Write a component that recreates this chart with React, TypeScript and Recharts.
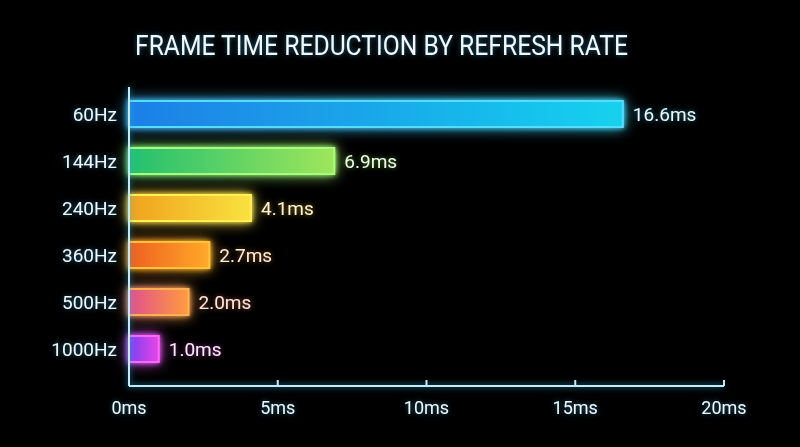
import React from 'react';
import { BarChart, Bar, XAxis, YAxis, LabelList } from 'recharts';

const categories = ['60Hz', '144Hz', '240Hz', '360Hz', '500Hz', '1000Hz'];
const frameTimes = [16.6, 6.9, 4.1, 2.7, 2.0, 1.0];
const xTicks = [0, 5, 10, 15, 20];
const title = 'FRAME TIME REDUCTION BY REFRESH RATE';

// bar look, one entry per category
const gradFrom = ['#1b7fe6', '#22c070', '#f0a21e', '#ef5f1e', '#e2508c', '#7a3ff0'];
const gradTo = ['#18d2ee', '#9fe65a', '#f9e23e', '#ffaa2a', '#ff9c40', '#e646e6'];
const strokes = ['#55dcff', '#a6ff7c', '#fff054', '#ffc238', '#ffb052', '#ff66ff'];
const labelFill = ['#eef9fc', '#f2fbe8', '#fff5d4', '#ffeede', '#ffe8de', '#fbeafb'];
const labelGlow = ['#1ec8ff', '#6ee04a', '#f5c020', '#ff8a20', '#ff7a50', '#e040e0'];

const axisColor = '#c4ecf6';
const font = 'Roboto, "Noto Sans", sans-serif';

const data = categories.map((rate, i) => ({ rate, ms: frameTimes[i] }));

const renderBar = (props: any) => {
  const { x, y, width, height, index } = props;
  return (
    <rect
      x={x}
      y={y}
      width={width}
      height={height}
      fill={`url(#barGrad${index})`}
      stroke={strokes[index]}
      strokeWidth={2}
      filter="url(#barGlow)"
    />
  );
};

const renderValue = (props: any) => {
  const { x, y, width, height, value, index } = props;
  return (
    <text
      x={x + width + 10}
      y={y + height / 2}
      dy={7}
      fill={labelFill[index]}
      fontSize={19}
      fontFamily={font}
      filter={`url(#labelGlow${index})`}
    >
      {`${Number(value).toFixed(1)}ms`}
    </text>
  );
};

const YTick = (props: any) => {
  const { x, y, payload } = props;
  return (
    <text x={x} y={y} dy={7} textAnchor="end" fill="#f0f9fc" fontSize={19} fontFamily={font} filter="url(#textGlow)">
      {payload.value}
    </text>
  );
};

const XTick = (props: any) => {
  const { x, y, payload } = props;
  return (
    <text x={x} y={y} dy={13} textAnchor="middle" fill="#f0f9fc" fontSize={18} fontFamily={font} filter="url(#textGlow)">
      {`${payload.value}ms`}
    </text>
  );
};

export default function App() {
  return (
    <div style={{ position: 'absolute', left: 0, top: 0, width: 800, height: 447, background: '#000', overflow: 'hidden' }}>
      <svg width={800} height={447} style={{ position: 'absolute', left: 0, top: 0 }}>
        <defs>
          {gradFrom.map((c, i) => (
            <linearGradient key={i} id={`barGrad${i}`} x1="0" y1="0" x2="1" y2="0">
              <stop offset="0%" stopColor={c} />
              <stop offset="100%" stopColor={gradTo[i]} />
            </linearGradient>
          ))}
          <filter id="barGlow" filterUnits="userSpaceOnUse" x={0} y={0} width={800} height={447}>
            <feGaussianBlur in="SourceGraphic" stdDeviation={7} result="b" />
            <feGaussianBlur in="SourceGraphic" stdDeviation={2.5} result="c" />
            <feMerge>
              <feMergeNode in="b" />
              <feMergeNode in="c" />
              <feMergeNode in="SourceGraphic" />
            </feMerge>
          </filter>
          <filter id="axisGlow" filterUnits="userSpaceOnUse" x={0} y={0} width={800} height={447}>
            <feGaussianBlur in="SourceAlpha" stdDeviation={3} result="a" />
            <feFlood floodColor="#2ab4ea" floodOpacity={0.9} />
            <feComposite in2="a" operator="in" result="g" />
            <feMerge>
              <feMergeNode in="g" />
              <feMergeNode in="SourceGraphic" />
            </feMerge>
          </filter>
          <filter id="textGlow" filterUnits="userSpaceOnUse" x={0} y={0} width={800} height={447}>
            <feGaussianBlur in="SourceAlpha" stdDeviation={2.5} result="a" />
            <feFlood floodColor="#2aa8e0" floodOpacity={0.6} />
            <feComposite in2="a" operator="in" result="g" />
            <feMerge>
              <feMergeNode in="g" />
              <feMergeNode in="SourceGraphic" />
            </feMerge>
          </filter>
          {labelGlow.map((c, i) => (
            <filter key={i} id={`labelGlow${i}`} filterUnits="userSpaceOnUse" x={0} y={0} width={800} height={447}>
              <feGaussianBlur in="SourceAlpha" stdDeviation={2.5} result="a" />
              <feFlood floodColor={c} floodOpacity={0.6} />
              <feComposite in2="a" operator="in" result="g" />
              <feMerge>
                <feMergeNode in="g" />
                <feMergeNode in="SourceGraphic" />
              </feMerge>
            </filter>
          ))}
        </defs>
        <text
          x={135}
          y={55}
          fill="#f2f9fc"
          fontSize={28}
          fontFamily={font}
          textLength={493}
          lengthAdjust="spacingAndGlyphs"
          filter="url(#textGlow)"
        >
          {title}
        </text>
      </svg>
      <div style={{ position: 'absolute', left: 0, top: 0 }}>
        <BarChart
          width={800}
          height={447}
          layout="vertical"
          data={data}
          margin={{ top: 87, right: 76, bottom: 21, left: 0 }}
        >
          <XAxis
            type="number"
            domain={[0, 20]}
            ticks={xTicks}
            height={40}
            tickSize={-6}
            tickMargin={21}
            axisLine={{ stroke: axisColor, strokeWidth: 2, filter: 'url(#axisGlow)' }}
            tickLine={{ stroke: axisColor, strokeWidth: 2 }}
            tick={<XTick />}
          />
          <YAxis
            type="category"
            dataKey="rate"
            width={129}
            tickSize={0}
            tickMargin={12}
            padding={{ top: 3, bottom: 14 }}
            axisLine={{ stroke: axisColor, strokeWidth: 2, filter: 'url(#axisGlow)' }}
            tickLine={false}
            tick={<YTick />}
          />
          <Bar dataKey="ms" barSize={26} isAnimationActive={false} shape={renderBar}>
            <LabelList dataKey="ms" content={renderValue} />
          </Bar>
        </BarChart>
      </div>
    </div>
  );
}
